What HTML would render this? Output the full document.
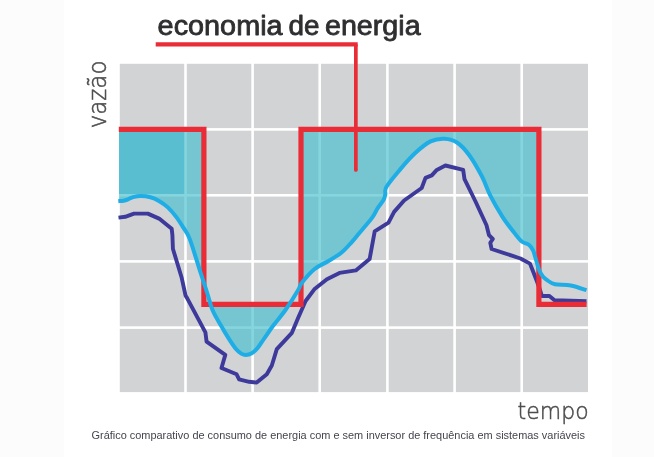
<!DOCTYPE html>
<html lang="pt-BR">
<head>
<meta charset="utf-8">
<title>economia de energia</title>
<style>
html,body{margin:0;padding:0;background:#fff;}
body{width:654px;height:457px;overflow:hidden;position:relative;font-family:"Liberation Sans",sans-serif;}
.side{position:absolute;top:0;height:457px;background:#fcfcfc;}
.side.l{left:0;width:64px;}
.side.r{left:612px;width:42px;}
svg{position:absolute;left:0;top:0;}
</style>
</head>
<body>
<div class="side l"></div>
<div class="side r"></div>
<svg width="654" height="457" viewBox="0 0 654 457">
<defs>
<clipPath id="above"><path d="M118.3,201.2 C119.2,201.1 121.9,201.0 123.5,200.7 C125.1,200.4 126.5,199.9 128.0,199.3 C129.5,198.7 130.4,197.9 132.5,197.3 C134.6,196.8 137.6,196.0 140.6,196.0 C143.6,196.0 147.3,196.4 150.4,197.2 C153.5,198.0 156.1,199.2 159.0,200.9 C161.9,202.6 164.7,204.4 167.6,207.1 C170.5,209.8 173.5,213.4 176.2,216.9 C178.8,220.4 181.2,224.2 183.5,227.9 C185.8,231.6 186.8,231.4 189.7,238.9 C192.5,246.4 197.6,263.5 200.6,272.7 C203.6,281.9 205.5,287.8 207.5,294.0 C209.5,300.2 210.4,305.0 212.5,310.0 C214.6,315.0 217.1,318.9 219.9,323.8 C222.7,328.7 226.4,334.9 229.1,339.1 C231.8,343.3 234.0,346.6 236.0,349.0 C238.0,351.4 239.7,352.6 241.3,353.6 C243.0,354.6 244.2,354.9 245.9,354.9 C247.6,354.9 249.4,354.7 251.3,353.6 C253.2,352.5 255.2,350.9 257.4,348.3 C259.6,345.8 261.6,342.1 264.3,338.3 C267.0,334.5 269.9,330.1 273.5,325.3 C277.1,320.5 281.7,315.4 285.8,309.5 C289.9,303.6 295.6,294.4 298.2,290.0 C300.8,285.6 299.0,286.5 301.7,283.0 C304.4,279.5 309.9,272.8 314.3,269.2 C318.7,265.6 323.6,263.9 328.1,261.2 C332.6,258.5 337.3,256.0 341.3,252.8 C345.3,249.6 348.9,245.2 352.0,241.8 C355.1,238.5 356.2,236.7 359.6,232.7 C363.0,228.7 369.2,221.7 372.2,217.6 C375.2,213.5 375.8,211.0 377.7,208.1 C379.6,205.2 382.2,202.3 383.5,200.0 C384.8,197.7 384.8,196.5 385.3,194.3 C385.8,192.1 384.0,190.9 386.5,186.7 C389.0,182.5 395.6,174.8 400.4,169.1 C405.2,163.4 410.5,157.4 415.5,152.8 C420.5,148.2 425.7,143.8 430.5,141.4 C435.3,139.1 440.1,138.5 444.5,138.7 C448.9,138.9 452.9,139.8 457.0,142.5 C461.1,145.2 465.1,149.5 469.3,155.2 C473.5,160.9 478.5,169.8 482.0,176.5 C485.5,183.2 486.8,188.6 490.2,195.3 C493.6,202.0 498.6,210.7 502.5,216.8 C506.4,222.9 510.4,227.7 513.5,231.8 C516.6,235.9 518.9,239.0 521.4,241.2 C523.9,243.4 526.8,243.2 528.8,244.8 C530.8,246.4 531.9,247.9 533.1,250.5 C534.3,253.1 535.2,257.2 536.2,260.5 C537.2,263.8 538.1,267.6 539.2,270.3 C540.3,273.0 541.5,274.8 542.9,276.5 C544.3,278.2 545.8,279.3 547.8,280.6 C549.8,281.9 551.2,283.5 555.0,284.3 C558.8,285.1 565.5,284.5 570.8,285.5 C576.0,286.5 583.9,289.4 586.5,290.2 L586.6,0.0 L118.0,0.0 Z"/></clipPath>
</defs>
<g fill="#d1d3d4"><rect x="119.8" y="63.8" width="64.4" height="64.3"/><rect x="186.8" y="63.8" width="64.5" height="64.3"/><rect x="253.9" y="63.8" width="64.5" height="64.3"/><rect x="321.0" y="63.8" width="65.1" height="64.3"/><rect x="388.7" y="63.8" width="64.6" height="64.3"/><rect x="455.9" y="63.8" width="64.5" height="64.3"/><rect x="523.0" y="63.8" width="65.0" height="64.3"/><rect x="119.8" y="130.7" width="64.4" height="63.3"/><rect x="186.8" y="130.7" width="64.5" height="63.3"/><rect x="253.9" y="130.7" width="64.5" height="63.3"/><rect x="321.0" y="130.7" width="65.1" height="63.3"/><rect x="388.7" y="130.7" width="64.6" height="63.3"/><rect x="455.9" y="130.7" width="64.5" height="63.3"/><rect x="523.0" y="130.7" width="65.0" height="63.3"/><rect x="119.8" y="196.6" width="64.4" height="63.5"/><rect x="186.8" y="196.6" width="64.5" height="63.5"/><rect x="253.9" y="196.6" width="64.5" height="63.5"/><rect x="321.0" y="196.6" width="65.1" height="63.5"/><rect x="388.7" y="196.6" width="64.6" height="63.5"/><rect x="455.9" y="196.6" width="64.5" height="63.5"/><rect x="523.0" y="196.6" width="65.0" height="63.5"/><rect x="119.8" y="262.7" width="64.4" height="63.6"/><rect x="186.8" y="262.7" width="64.5" height="63.6"/><rect x="253.9" y="262.7" width="64.5" height="63.6"/><rect x="321.0" y="262.7" width="65.1" height="63.6"/><rect x="388.7" y="262.7" width="64.6" height="63.6"/><rect x="455.9" y="262.7" width="64.5" height="63.6"/><rect x="523.0" y="262.7" width="65.0" height="63.6"/><rect x="119.8" y="328.9" width="64.4" height="63.2"/><rect x="186.8" y="328.9" width="64.5" height="63.2"/><rect x="253.9" y="328.9" width="64.5" height="63.2"/><rect x="321.0" y="328.9" width="65.1" height="63.2"/><rect x="388.7" y="328.9" width="64.6" height="63.2"/><rect x="455.9" y="328.9" width="64.5" height="63.2"/><rect x="523.0" y="328.9" width="65.0" height="63.2"/></g>

<g fill="#46bfce" fill-opacity="0.66">
<g clip-path="url(#above)">
<rect x="119" y="129.4" width="84.9" height="174.9"/>
<rect x="301.0" y="129.4" width="237.9" height="174.9"/>
<rect x="203.9" y="304.4" width="97.1" height="80"/>
</g>
</g>
<rect x="119" y="129.4" width="65.2" height="64.6" fill="#5abed1"/>
<path d="M155.7,44.4 H357.7" fill="none" stroke="#ea2c37" stroke-width="4.2"/>
<path d="M355.85,44.4 V170" fill="none" stroke="#ea2c37" stroke-width="3.7"/>
<circle cx="355.85" cy="170" r="1.85" fill="#ea2c37"/>
<path d="M118.5,217.6 L125.2,216.8 L134.0,213.6 L147.8,213.6 L159.1,218.6 L171.7,228.7 L172.4,235.0 L172.9,248.8 L181.7,277.8 L185.5,295.4 L187.5,298.8 L205.4,332.3 L206.6,341.7 L225.3,354.9 L221.5,368.0 L236.6,374.3 L239.1,379.3 L249.2,381.8 L256.7,382.6 L266.8,374.3 L271.8,365.5 L276.8,349.1 L291.9,332.8 L298.2,317.7 L305.6,301.0 L314.3,289.3 L326.9,279.2 L339.5,272.9 L355.8,270.4 L369.6,259.1 L374.7,231.4 L388.5,222.6 L394.1,211.9 L404.1,200.5 L421.7,188.0 L425.5,177.9 L431.8,175.4 L436.8,169.9 L445.4,165.5 L463.2,169.9 L464.5,179.2 L475.5,201.5 L486.5,225.2 L489.0,235.2 L492.8,239.0 L490.3,242.8 L491.6,249.0 L520.5,258.5 L530.0,263.6 L533.3,272.0 L536.8,281.0 L539.4,288.0 L541.9,296.0 L549.4,296.0 L554.5,300.2 L586.5,301.3" fill="none" stroke="#3d3a9b" stroke-width="3.9" stroke-linejoin="round" stroke-linecap="butt"/>
<path d="M118.8,129.4 H203.9 V304.4 H301.0 V129.4 H538.9 V304.4 H586.6" fill="none" stroke="#ea2c37" stroke-width="5.2" stroke-linejoin="miter"/>
<path d="M118.3,201.2 C119.2,201.1 121.9,201.0 123.5,200.7 C125.1,200.4 126.5,199.9 128.0,199.3 C129.5,198.7 130.4,197.9 132.5,197.3 C134.6,196.8 137.6,196.0 140.6,196.0 C143.6,196.0 147.3,196.4 150.4,197.2 C153.5,198.0 156.1,199.2 159.0,200.9 C161.9,202.6 164.7,204.4 167.6,207.1 C170.5,209.8 173.5,213.4 176.2,216.9 C178.8,220.4 181.2,224.2 183.5,227.9 C185.8,231.6 186.8,231.4 189.7,238.9 C192.5,246.4 197.6,263.5 200.6,272.7 C203.6,281.9 205.5,287.8 207.5,294.0 C209.5,300.2 210.4,305.0 212.5,310.0 C214.6,315.0 217.1,318.9 219.9,323.8 C222.7,328.7 226.4,334.9 229.1,339.1 C231.8,343.3 234.0,346.6 236.0,349.0 C238.0,351.4 239.7,352.6 241.3,353.6 C243.0,354.6 244.2,354.9 245.9,354.9 C247.6,354.9 249.4,354.7 251.3,353.6 C253.2,352.5 255.2,350.9 257.4,348.3 C259.6,345.8 261.6,342.1 264.3,338.3 C267.0,334.5 269.9,330.1 273.5,325.3 C277.1,320.5 281.7,315.4 285.8,309.5 C289.9,303.6 295.6,294.4 298.2,290.0 C300.8,285.6 299.0,286.5 301.7,283.0 C304.4,279.5 309.9,272.8 314.3,269.2 C318.7,265.6 323.6,263.9 328.1,261.2 C332.6,258.5 337.3,256.0 341.3,252.8 C345.3,249.6 348.9,245.2 352.0,241.8 C355.1,238.5 356.2,236.7 359.6,232.7 C363.0,228.7 369.2,221.7 372.2,217.6 C375.2,213.5 375.8,211.0 377.7,208.1 C379.6,205.2 382.2,202.3 383.5,200.0 C384.8,197.7 384.8,196.5 385.3,194.3 C385.8,192.1 384.0,190.9 386.5,186.7 C389.0,182.5 395.6,174.8 400.4,169.1 C405.2,163.4 410.5,157.4 415.5,152.8 C420.5,148.2 425.7,143.8 430.5,141.4 C435.3,139.1 440.1,138.5 444.5,138.7 C448.9,138.9 452.9,139.8 457.0,142.5 C461.1,145.2 465.1,149.5 469.3,155.2 C473.5,160.9 478.5,169.8 482.0,176.5 C485.5,183.2 486.8,188.6 490.2,195.3 C493.6,202.0 498.6,210.7 502.5,216.8 C506.4,222.9 510.4,227.7 513.5,231.8 C516.6,235.9 518.9,239.0 521.4,241.2 C523.9,243.4 526.8,243.2 528.8,244.8 C530.8,246.4 531.9,247.9 533.1,250.5 C534.3,253.1 535.2,257.2 536.2,260.5 C537.2,263.8 538.1,267.6 539.2,270.3 C540.3,273.0 541.5,274.8 542.9,276.5 C544.3,278.2 545.8,279.3 547.8,280.6 C549.8,281.9 551.2,283.5 555.0,284.3 C558.8,285.1 565.5,284.5 570.8,285.5 C576.0,286.5 583.9,289.4 586.5,290.2" fill="none" stroke="#1fade6" stroke-width="4" stroke-linejoin="round" stroke-linecap="butt"/>
<g font-family="'Liberation Sans',sans-serif" font-size="27" fill="#2f2f31" stroke="#2f2f31" stroke-width="0.8" stroke-linejoin="round">
<text x="157.6" y="34.5" textLength="125" lengthAdjust="spacingAndGlyphs">economia</text>
<text x="288.4" y="34.5" textLength="31" lengthAdjust="spacingAndGlyphs">de</text>
<text x="325" y="34.5" textLength="95.6" lengthAdjust="spacingAndGlyphs">energia</text>
</g>
<text transform="translate(106.3,128.2) rotate(-90)" font-family="'DejaVu Sans Light','Liberation Sans',sans-serif" font-size="24.5" fill="#4d4d4f" stroke="#4d4d4f" stroke-width="0.55" textLength="67.6" lengthAdjust="spacingAndGlyphs">vazão</text>
<text x="517.6" y="419.4" font-family="'DejaVu Sans Light','Liberation Sans',sans-serif" font-size="23.5" fill="#4d4d4f" stroke="#4d4d4f" stroke-width="0.5" textLength="71" lengthAdjust="spacingAndGlyphs">tempo</text>
<text x="91.5" y="439.3" font-family="'Liberation Sans',sans-serif" font-size="10.6" fill="#44444e" textLength="493.5" lengthAdjust="spacingAndGlyphs">Gráfico comparativo de consumo de energia com e sem inversor de frequência em sistemas variáveis</text>
</svg>
</body>
</html>
